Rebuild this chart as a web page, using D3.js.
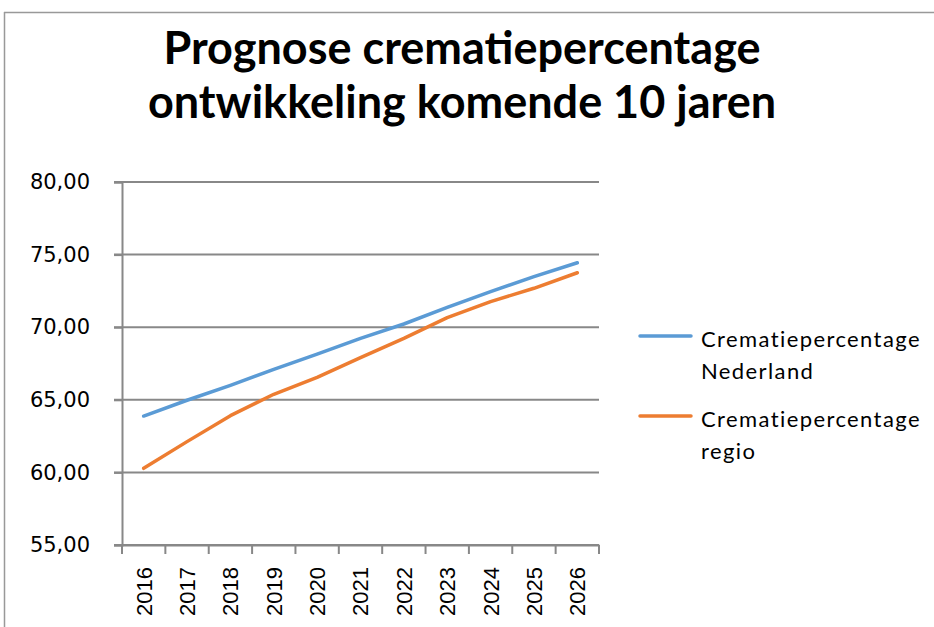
<!DOCTYPE html>
<html>
<head>
<meta charset="utf-8">
<script src="https://cdn.jsdelivr.net/npm/d3@7/dist/d3.min.js"></script>
<style>
  html, body { margin: 0; padding: 0; background: #fff; }
  svg { display: block; }
</style>
</head>
<body>
<svg id="chart" width="934" height="627"></svg>
<script>
const years = ["2016","2017","2018","2019","2020","2021","2022","2023","2024","2025","2026"];
const nederland = [63.88, 64.97, 66.0, 67.1, 68.15, 69.23, 70.22, 71.37, 72.45, 73.48, 74.44];
const regio = [60.28, 62.12, 63.91, 65.38, 66.55, 67.9, 69.23, 70.66, 71.76, 72.68, 73.75];
const yTicks = [55, 60, 65, 70, 75, 80];
const seriesNames = ["Crematiepercentage Nederland", "Crematiepercentage regio"];
const legendLines = [["Crematiepercentage", "Nederland"], ["Crematiepercentage", "regio"]];
const colors = ["#5B9BD5", "#ED7D31"];
const titleLines = ["Prognose crematiepercentage", "ontwikkeling komende 10 jaren"];

const svg = d3.select("#chart");
const gridColor = "#888888";

// outer chart border (top and left visible)
svg.append("line").attr("x1", 4).attr("x2", 934).attr("y1", 12.5).attr("y2", 12.5)
  .attr("stroke", "#999").attr("stroke-width", 1.5);
svg.append("line").attr("x1", 4.5).attr("x2", 4.5).attr("y1", 12).attr("y2", 627)
  .attr("stroke", "#999").attr("stroke-width", 1.5);

// title
const title = svg.append("g");
titleLines.forEach((t, i) => {
  title.append("text")
    .attr("x", 462).attr("y", 64 + i * 54)
    .attr("text-anchor", "middle")
    .attr("font-family", "Lato, 'Open Sans', sans-serif")
    .attr("font-weight", "bold")
    .attr("font-size", 45)
    .attr("fill", "#000")
    .text(t);
});

const x = d3.scaleBand().domain(years).range([122, 599]);
const y = d3.scaleLinear().domain([55, 80]).range([545, 182]);

// gridlines
svg.append("g").selectAll("line").data(yTicks).join("line")
  .attr("x1", 114).attr("x2", 599)
  .attr("y1", d => y(d)).attr("y2", d => y(d))
  .attr("stroke", gridColor).attr("stroke-width", 2);

// y axis
const yAxis = svg.append("g").attr("transform", "translate(122,0)")
  .call(d3.axisLeft(y).tickValues(yTicks).tickSize(8).tickPadding(24)
    .tickFormat(d => d3.format(".2f")(d).replace(".", ",")));
yAxis.select(".domain").attr("stroke", gridColor).attr("stroke-width", 2);
yAxis.selectAll(".tick line").attr("stroke", gridColor).attr("stroke-width", 2);
yAxis.selectAll("text").attr("font-family", "'DejaVu Sans', sans-serif")
  .attr("font-size", 21).attr("fill", "#000");

// x axis
const xAxis = svg.append("g").attr("transform", "translate(0,545)")
  .call(d3.axisBottom(x).tickSize(0).tickSizeOuter(0));
xAxis.select(".domain").attr("stroke", gridColor).attr("stroke-width", 2);
xAxis.selectAll(".tick line").remove();
xAxis.selectAll(".tick text")
  .attr("font-family", "'Liberation Sans', Arial, sans-serif")
  .attr("font-size", 22).attr("fill", "#000")
  .attr("transform", "rotate(-90)")
  .attr("x", -22).attr("y", 0).attr("dy", "0.36em")
  .attr("text-anchor", "end");
// x tick marks at band boundaries
const bounds = years.map(d => x(d)).concat([x(years[years.length - 1]) + x.bandwidth()]);
svg.append("g").selectAll("line").data(bounds).join("line")
  .attr("x1", d => d).attr("x2", d => d)
  .attr("y1", 545).attr("y2", 554)
  .attr("stroke", gridColor).attr("stroke-width", 2);

// lines
const line = d3.line()
  .x((d, i) => x(years[i]) + x.bandwidth() / 2)
  .y(d => y(d));
[nederland, regio].forEach((s, i) => {
  svg.append("path").datum(s)
    .attr("d", line)
    .attr("fill", "none")
    .attr("stroke", colors[i])
    .attr("stroke-width", 3.5)
    .attr("stroke-linejoin", "round")
    .attr("stroke-linecap", "round");
});

// legend
const legend = svg.append("g");
[336, 416].forEach((ly, i) => {
  legend.append("line").attr("x1", 640).attr("x2", 691).attr("y1", ly).attr("y2", ly)
    .attr("stroke", colors[i]).attr("stroke-width", 3.5).attr("stroke-linecap", "round");
  legendLines[i].forEach((t, j) => {
    legend.append("text")
      .attr("x", 701).attr("y", ly + 11 + j * 31.5)
      .attr("font-family", "Lato, 'Open Sans', sans-serif")
      .attr("font-size", 22)
      .attr("letter-spacing", 1.4)
      .attr("fill", "#000")
      .text(t);
  });
});
</script>
</body>
</html>
